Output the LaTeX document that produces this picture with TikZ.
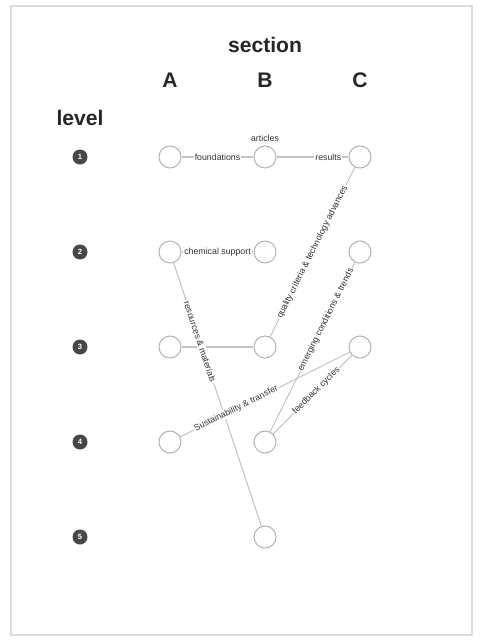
\documentclass[tikz,border=0pt]{standalone}
\usepackage{fontspec}
\setmainfont{Liberation Sans}
\usepackage{xcolor}
\usetikzlibrary{positioning}
\definecolor{framegray}{HTML}{DCDCDC}
\definecolor{ringgray}{HTML}{B4B4B4}
\definecolor{wiregray}{HTML}{C4C4C4}
\definecolor{inkgray}{HTML}{333333}
\tikzset{
  topic/.style={circle,draw=ringgray,fill=white,line width=0.9pt,minimum size=0.66cm,inner sep=0pt},
  lvl/.style={circle,fill=black!72,text=white,minimum size=0.45cm,inner sep=0pt,font=\bfseries\fontsize{6.5}{6.5}\selectfont},
  head/.style={font=\bfseries\fontsize{18}{20}\selectfont,text=black!85},
  link/.style={draw=wiregray,line width=0.9pt},
  tag/.style={sloped,fill=white,inner sep=0.8pt,font=\fontsize{7.5}{8}\selectfont,text=inkgray}
}

\begin{document}
\begin{tikzpicture}[x=0.03cm,y=-0.03cm,node distance=2.85cm,on grid]
  \useasboundingbox (0,0) rectangle (481,641);
  \draw[framegray,line width=2.5pt] (11,6) rectangle (472,635);
  % topic grid
  \node[topic] (a1) at (170,157) {};
  \node[topic, right=of a1, label={[font=\fontsize{7.5}{8}\selectfont,text=inkgray]above:articles}] (b1) {};
  \node[topic, right=of b1] (c1) {};
  \node[topic, below=of a1] (a2) {};
  \node[topic, below=of b1] (b2) {};
  \node[topic, below=of c1] (c2) {};
  \node[topic, below=of a2] (a3) {};
  \node[topic, below=of b2] (b3) {};
  \node[topic, below=of c2] (c3) {};
  \node[topic, below=of a3] (a4) {};
  \node[topic, below=of b3] (b4) {};
  \node[topic, below=of b4] (b5) {};
  % levels
  \foreach \r in {1,...,5}
    \node[lvl] (lvl\r) at (80,157+95*\r-95) {\r};
  % headings
  \node[head, above=2.31cm of a1] (hA) {A};
  \node[head, above=2.31cm of b1] (hB) {B};
  \node[head, above=2.31cm of c1] (hC) {C};
  \node[head, above=3.36cm of b1] (sec) {section};
  \node[head, above=1.17cm of lvl1] (lev) {level};
  % links
  \draw[link] (a1) -- node[tag]{foundations} (b1);
  \draw[link] (b1) -- node[tag,pos=0.72]{results} (c1);
  \draw[link] (a2) -- node[tag]{chemical support} (b2);
  \draw[link] (a3) -- (b3);
  \draw[link] (c1) -- node[tag]{quality criteria \& technology advances} (b3);
  \draw[link] (a2) -- node[tag,pos=0.3]{resources \& materials} (b5);
  \draw[link] (c2) -- node[tag,pos=0.34]{emerging conditions \& trends} (b4);
  \draw[link] (a4) -- node[tag,pos=0.33]{Sustainability \& transfer} (c3);
  \draw[link] (b4) -- node[tag,pos=0.55]{feedback cycles} (c3);
\end{tikzpicture}
\end{document}
